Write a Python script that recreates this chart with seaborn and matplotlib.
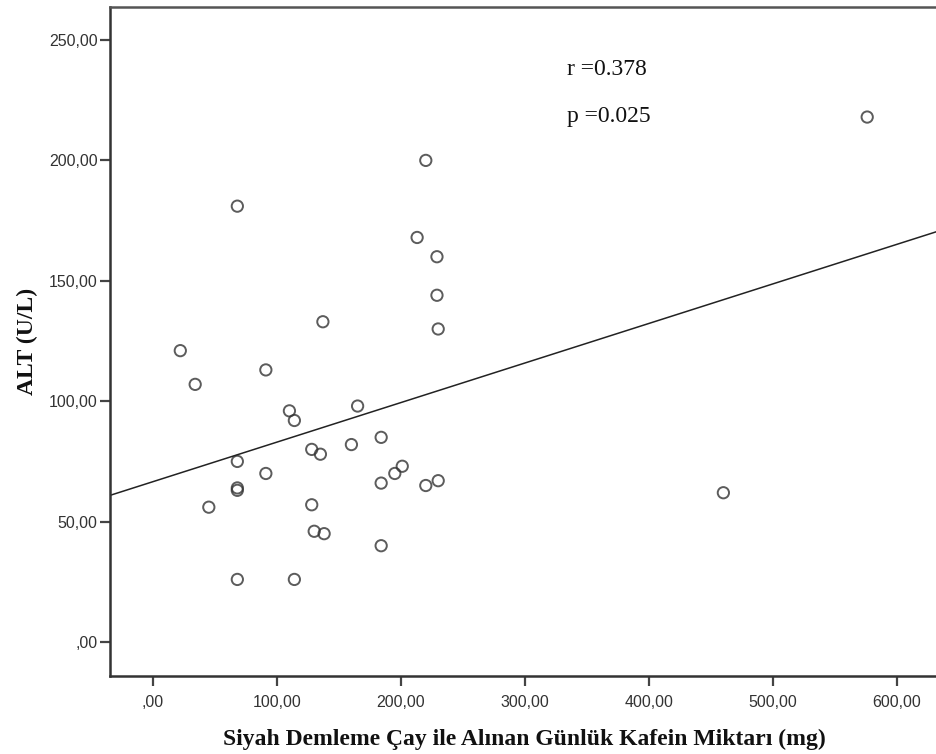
import matplotlib
matplotlib.use("Agg")
import matplotlib.pyplot as plt
import seaborn as sns
import pandas as pd

caffeine = [22, 34, 68, 91, 137, 230, 110, 114, 165, 68, 68, 68, 91, 45,
            128, 135, 160, 184, 201, 195, 184, 220, 230, 128, 130, 138, 184,
            68, 114, 220, 213, 229, 229, 460, 576]
alt = [121, 107, 181, 113, 133, 130, 96, 92, 98, 75, 64, 63, 70, 56,
       80, 78, 82, 85, 73, 70, 66, 65, 67, 57, 46, 45, 40,
       26, 26, 200, 168, 160, 144, 62, 218]
xticks = [0, 100, 200, 300, 400, 500, 600]
xtick_labels = [",00", "100,00", "200,00", "300,00", "400,00", "500,00", "600,00"]
yticks = [0, 50, 100, 150, 200, 250]
ytick_labels = [",00", "50,00", "100,00", "150,00", "200,00", "250,00"]

df = pd.DataFrame({"x": caffeine, "y": alt})

sns.set_theme(style="white")
plt.rcParams["font.family"] = ["Liberation Sans", "DejaVu Sans"]

fig = plt.figure(figsize=(9.36, 7.54), dpi=100)
ax = fig.add_axes([110/936, 78/754, 1 - 110/936 + 0.002, (676 - 7)/754])
ax.set_xlim(-34.7, 633)
ax.set_ylim(-14.1, 263.7)

sns.regplot(data=df, x="x", y="y", ax=ax, ci=None, truncate=False,
            marker="o",
            scatter_kws=dict(s=66, facecolors="none", edgecolors="#333333",
                             linewidths=1.4),
            line_kws=dict(color="#222222", linewidth=1.1))
ax.set_xlim(-34.7, 633)
ax.set_ylim(-14.1, 263.7)

ax.set_xticks(xticks)
ax.set_xticklabels(xtick_labels)
ax.set_yticks(yticks)
ax.set_yticklabels(ytick_labels)
ax.tick_params(axis="both", which="both", direction="out", length=7, width=1.6,
               color="#444444", labelsize=11.5, labelcolor="#333333", pad=2,
               bottom=True, left=True)
ax.tick_params(axis="x", pad=7)

for name, sp in ax.spines.items():
    sp.set_visible(True)
    sp.set_color("#555555")
    sp.set_linewidth(1.8)
ax.spines["left"].set_color("#333333")
ax.spines["bottom"].set_color("#333333")

serif = ["Liberation Serif", "DejaVu Serif"]
ax.set_xlabel("Siyah Demleme Çay ile Alınan Günlük Kafein Miktarı (mg)",
              family=serif, fontsize=17, fontweight="bold", color="#111111",
              labelpad=13)
ax.set_ylabel("ALT (U/L)", family=serif, fontsize=17, fontweight="bold",
              color="#111111", labelpad=8)

ax.text(0.552, 0.9065, "r =0.378", transform=ax.transAxes, family=serif,
        fontsize=17, color="#111111", va="center", ha="left")
ax.text(0.552, 0.8365, "p =0.025", transform=ax.transAxes, family=serif,
        fontsize=17, color="#111111", va="center", ha="left")

fig.savefig("out.png", dpi=100)
